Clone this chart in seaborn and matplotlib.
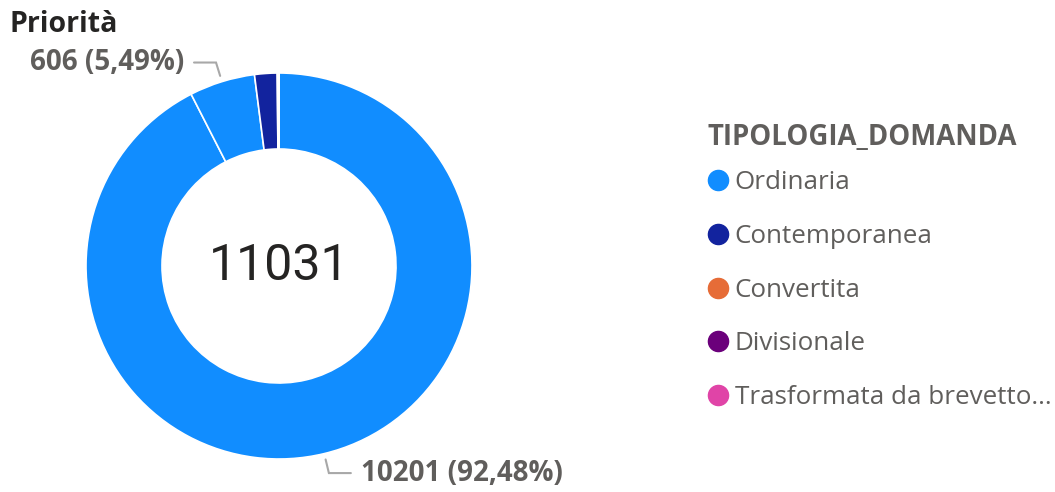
import matplotlib
matplotlib.use("Agg")
import numpy as np
import matplotlib.pyplot as plt
import seaborn as sns
from matplotlib.lines import Line2D

# data
slice_types = ["Ordinaria", "Ordinaria", "Contemporanea", "Convertita", "Divisionale",
               "Trasformata da brevetto..."]
slice_values = [10201, 606, 208, 10, 3, 3]
legend_types = ["Ordinaria", "Contemporanea", "Convertita", "Divisionale",
                "Trasformata da brevetto..."]
type_colors = ["#118DFF", "#12239E", "#E66C37", "#6B007B", "#E044A7"]
legend_title = "TIPOLOGIA_DOMANDA"
chart_title = "Priorità"

sns.set_theme(style="white")
plt.rcParams["font.family"] = ["Open Sans", "DejaVu Sans"]

W, H = 1055, 492
fig = plt.figure(figsize=(W / 100, H / 100), dpi=100)
ax = fig.add_axes([0, 0, 1, 1])

palette = dict(zip(legend_types, sns.color_palette(type_colors)))
cx, cy, R, ring = 279, H - 266, 193, 76

wedges, _ = ax.pie(slice_values, colors=[palette[t] for t in slice_types],
                   startangle=90, counterclock=False, radius=R, center=(cx, cy),
                   wedgeprops=dict(width=ring, edgecolor="white", linewidth=1.2))
ax.set_xlim(0, W)
ax.set_ylim(0, H)
ax.set_aspect("equal")
ax.axis("off")

total = sum(slice_values)
ax.text(cx, cy, str(total), ha="center", va="center", fontsize=36,
        family=["Roboto", "DejaVu Sans"], color="#252423")

# data labels with leader lines for the big slices
grey = "#605E5C"
for w, v in zip(wedges, slice_values):
    pct = v / total * 100
    if pct < 5:
        continue
    mid = np.deg2rad((w.theta1 + w.theta2) / 2)
    dx, dy = np.cos(mid), np.sin(mid)
    x0, y0 = cx + (R + 6) * dx, cy + (R + 6) * dy
    x1, y1 = cx + (R + 20) * dx, cy + (R + 20) * dy
    side = 1 if dx >= 0 else -1
    x2 = x1 + side * 22
    ax.plot([x0, x1, x2], [y0, y1, y1], color="#A8A8A8", lw=1.5,
            solid_joinstyle="miter", clip_on=False)
    lab = f"{v} ({pct:.2f}%)".replace(".", ",")
    ax.text(x2 + side * 10, y1, lab, ha="left" if side > 0 else "right",
            va="center", fontsize=20, fontweight="bold", color=grey)

ax.text(10, H - 25, chart_title, ha="left", va="center", fontsize=20.5,
        fontweight="bold", color="#252423")

# legend: title as its own text, items below
ax.text(708, H - 137, legend_title, ha="left", va="center", fontsize=19.8,
        fontweight="bold", color=grey)
handles = [Line2D([], [], marker="o", linestyle="", markersize=14.5, color=palette[t])
           for t in legend_types]
leg = ax.legend(handles, legend_types, loc="upper left",
                bbox_to_anchor=(710 / W, 1 - 170 / H), frameon=False,
                fontsize=18.7, labelcolor=grey, handlelength=0.65,
                handletextpad=0.3, labelspacing=1.11, borderaxespad=0,
                borderpad=0)

fig.savefig("out.png", dpi=100)
